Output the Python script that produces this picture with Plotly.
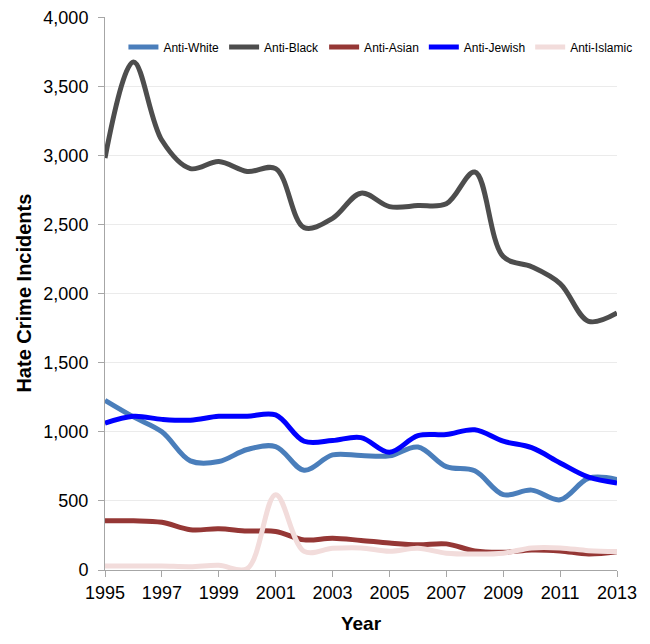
import plotly.graph_objects as go

years = list(range(1995, 2014))
anti_white = [1228, 1108, 1000, 790, 785, 872, 893, 722, 833, 828, 826, 890, 748, 718, 546, 578, 508, 664, 655]
anti_black = [2981, 3677, 3110, 2905, 2956, 2884, 2905, 2478, 2545, 2727, 2630, 2637, 2650, 2880, 2268, 2195, 2073, 1800, 1860]
anti_asian = [356, 356, 345, 292, 298, 282, 279, 218, 230, 214, 195, 182, 189, 138, 128, 145, 138, 116, 132]
anti_jewish = [1062, 1112, 1090, 1084, 1112, 1112, 1122, 932, 937, 958, 852, 972, 980, 1015, 932, 885, 775, 672, 630]
anti_islamic = [29, 29, 29, 24, 34, 10, 545, 135, 157, 160, 135, 157, 122, 116, 122, 160, 160, 140, 134]

series = [
    ("Anti-White", anti_white, "#4A7EBB"),
    ("Anti-Black", anti_black, "#4D4D4D"),
    ("Anti-Asian", anti_asian, "#953735"),
    ("Anti-Jewish", anti_jewish, "#0000FF"),
    ("Anti-Islamic", anti_islamic, "#F2DCDB"),
]

fig = go.Figure()
for name, vals, color in series:
    fig.add_trace(go.Scatter(
        x=years, y=vals, name=name, mode="lines",
        line=dict(color=color, width=5, shape="spline", smoothing=1.0),
    ))

font_family = "Liberation Sans, Arial, sans-serif"
fig.update_layout(
    width=650, height=644,
    margin=dict(l=97, r=41, t=9, b=82),
    paper_bgcolor="white", plot_bgcolor="white",
    font=dict(family=font_family, color="#000000", size=18),
    showlegend=True,
    legend=dict(
        orientation="h", x=0.036, y=0.972, xanchor="left", yanchor="top",
        font=dict(size=12, family=font_family), bgcolor="rgba(0,0,0,0)",
        itemwidth=30, tracegroupgap=0, itemsizing="constant",
    ),
    xaxis=dict(
        range=[1995, 2013], tickmode="array",
        tickvals=list(range(1995, 2014, 2)),
        ticktext=[str(y) for y in range(1995, 2014, 2)],
        showgrid=False, showline=True, linecolor="#A6A6A6", linewidth=1,
        ticks="outside", ticklen=6, tickcolor="#A6A6A6",
        tickfont=dict(size=18), zeroline=False, automargin=False,
        ticklabeloverflow="allow",
        title=dict(text="<b>Year</b>", font=dict(size=19)),
    ),
    yaxis=dict(
        range=[0, 4002], tickmode="array",
        tickvals=list(range(0, 4001, 500)),
        tickformat=",d", showgrid=True, gridcolor="#EBEBEB", gridwidth=1,
        showline=True, linecolor="#A6A6A6", linewidth=1,
        ticks="outside", ticklen=6, tickcolor="#A6A6A6", ticklabelstandoff=6,
        tickfont=dict(size=18), zeroline=False, automargin=False,
        ticklabeloverflow="allow",
    ),
    annotations=[dict(
        text="<b>Hate Crime Incidents</b>", xref="paper", yref="paper",
        x=-0.16, y=0.5, xanchor="center", yanchor="middle", textangle=-90,
        showarrow=False, font=dict(size=20, family=font_family, color="#000000"),
    )],
)

fig.write_html("out.html")
